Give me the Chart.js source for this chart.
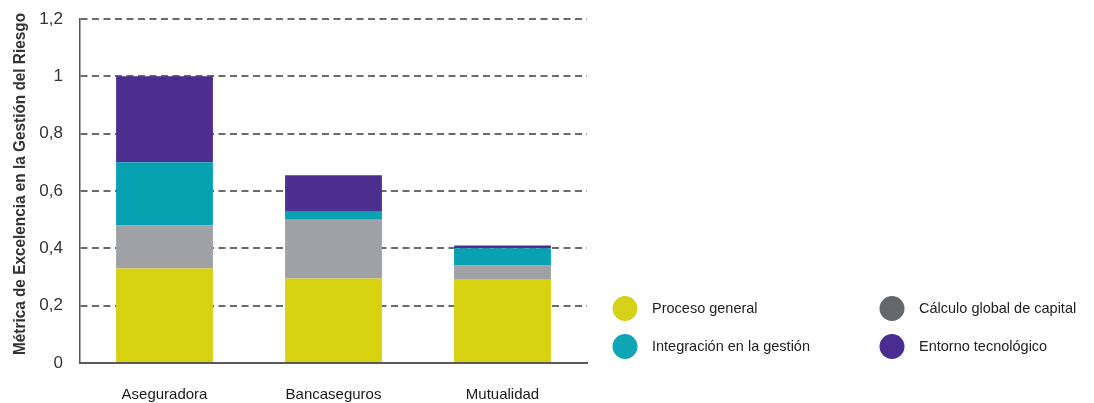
<!DOCTYPE html>
<html lang="es">
<head>
<meta charset="utf-8">
<title>Métrica de Excelencia en la Gestión del Riesgo</title>
<script src="https://cdn.jsdelivr.net/npm/chart.js@4/dist/chart.umd.min.js"></script>
<style>
  html, body { margin: 0; padding: 0; background: #ffffff; }
  #wrap { position: relative; width: 1094px; height: 403px; }
</style>
</head>
<body>
<div id="wrap"><canvas id="chart" width="1094" height="403"></canvas></div>
<script>
// Categories and stacked component values
const categories = ['Aseguradora', 'Bancaseguros', 'Mutualidad'];
const procesoGeneral = [0.33, 0.295, 0.29];
const calculoCapital = [0.15, 0.205, 0.05];
const integracionGestion = [0.22, 0.03, 0.06];
const entornoTecnologico = [0.30, 0.125, 0.01];

// Y-axis tick labels (decimal comma)
const yTickValues = [0, 0.2, 0.4, 0.6, 0.8, 1, 1.2];
const yTickLabels = ['0', '0,2', '0,4', '0,6', '0,8', '1', '1,2'];

const yAxisTitle = 'Métrica de Excelencia en la Gestión del Riesgo';
const seriesNames = ['Proceso general', 'Cálculo global de capital', 'Integración en la gestión', 'Entorno tecnológico'];
const barColors = ['#d6d20f', '#a0a1a5', '#07a1b2', '#4b2e8e'];
const legendColors = ['#d6d21a', '#64686a', '#10a5b5', '#4a2d91'];

const seriesValues = [procesoGeneral, calculoCapital, integracionGestion, entornoTecnologico];

// Rotated, condensed y-axis title spanning the plot height
const axisTitle = {
  id: 'axisTitle',
  afterDraw(chart) {
    const ctx = chart.ctx;
    const area = chart.chartArea;
    const cy = (area.top + area.bottom) / 2 - 7;
    ctx.save();
    ctx.font = 'bold 16px "Liberation Sans", Arial, sans-serif';
    const w = ctx.measureText(yAxisTitle).width;
    const squeeze = 342 / w;
    ctx.translate(20.5, cy);
    ctx.rotate(-Math.PI / 2);
    ctx.scale(squeeze, 1);
    ctx.fillStyle = '#333333';
    ctx.textAlign = 'center';
    ctx.textBaseline = 'middle';
    ctx.fillText(yAxisTitle, 0, 0);
    ctx.restore();
  }
};

// Two-column legend drawn at the right of the plot
const sideLegend = {
  id: 'sideLegend',
  afterDraw(chart) {
    const ctx = chart.ctx;
    const cols = [625, 892];
    const rows = [308.5, 346.5];
    chart.data.datasets.forEach((ds, i) => {
      const cx = cols[i % 2];
      const cy = rows[Math.floor(i / 2)];
      ctx.save();
      ctx.beginPath();
      ctx.arc(cx, cy, 12.5, 0, Math.PI * 2);
      ctx.fillStyle = ds.legendColor;
      ctx.fill();
      ctx.fillStyle = '#222222';
      ctx.font = '14.5px "Liberation Sans", Arial, sans-serif';
      ctx.textBaseline = 'middle';
      ctx.textAlign = 'left';
      ctx.fillText(ds.label, cx + 27, cy);
      ctx.restore();
    });
  }
};

new Chart(document.getElementById('chart'), {
  type: 'bar',
  data: {
    labels: categories,
    datasets: seriesNames.map((name, i) => ({
      label: name,
      data: seriesValues[i],
      backgroundColor: barColors[i],
      legendColor: legendColors[i],
      borderWidth: 0,
      categoryPercentage: 1,
      barPercentage: 0.573
    }))
  },
  options: {
    responsive: false,
    animation: false,
    devicePixelRatio: 1,
    layout: { padding: { top: 19, right: 507, bottom: 0, left: 0 } },
    plugins: {
      legend: { display: false },
      tooltip: { enabled: false }
    },
    scales: {
      x: {
        stacked: true,
        grid: { display: false, drawTicks: false },
        border: { display: true, color: '#5a5a5a', width: 2 },
        ticks: {
          padding: 23,
          color: '#1a1a1a',
          font: { family: '"Liberation Sans", Arial, sans-serif', size: 15 }
        },
        afterFit(scale) { scale.height = 40; }
      },
      y: {
        stacked: true,
        min: 0,
        max: 1.2,
        afterBuildTicks(scale) {
          scale.ticks = yTickValues.map(v => ({ value: v }));
        },
        ticks: {
          padding: 17,
          color: '#333333',
          font: { family: '"Liberation Sans", Arial, sans-serif', size: 17 },
          callback(value) {
            const idx = yTickValues.findIndex(v => Math.abs(v - value) < 1e-9);
            return idx >= 0 ? yTickLabels[idx] : '';
          }
        },
        grid: {
          drawTicks: false,
          lineWidth: 2,
          color: ctx => (ctx.tick && ctx.tick.value === 0) ? 'rgba(0,0,0,0)' : '#6b6b6b'
        },
        border: { display: true, color: '#555555', width: 1.5, dash: [7, 4.5] },
        title: { display: false },
        afterFit(scale) {
          scale.width = 80;
          scale.paddingTop = 0;
          scale.paddingBottom = 0;
        }
      }
    }
  },
  plugins: [axisTitle, sideLegend]
});
</script>
</body>
</html>
